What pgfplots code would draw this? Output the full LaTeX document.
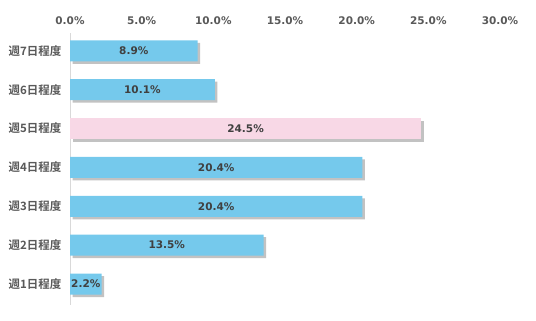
\documentclass[border=0pt]{standalone}
\usepackage{pgfplots}
\pgfplotsset{compat=1.18}
\usepackage{fontspec}
\setmainfont{DejaVu Sans}
\newfontfamily\cjkb{Noto Sans CJK JP Bold}
\usetikzlibrary{shadows}
\definecolor{barblue}{RGB}{117,201,236}
\definecolor{barpink}{RGB}{248,216,230}
\definecolor{ticktxt}{RGB}{89,89,89}
\definecolor{lbltxt}{RGB}{64,64,64}
\definecolor{axgray}{RGB}{217,217,217}
\begin{document}
\begin{tikzpicture}
\useasboundingbox (0,0) rectangle (536bp,321bp);
\begin{axis}[
  at={(70bp,16bp)}, anchor=south west,
  scale only axis, width=430bp, height=272bp,
  xmin=0, xmax=30, ymin=-0.54, ymax=6.46,
  axis line style={draw=none},
  major tick length=0pt,
  xtick={0,5,...,30},
  xticklabel pos=upper,
  /pgf/number format/assume math mode=true,
  xticklabel={\pgfmathprintnumber[fixed,fixed zerofill,precision=1]{\tick}\%},
  xticklabel style={font=\bfseries\fontsize{10.5bp}{12bp}\selectfont, text=ticktxt, yshift=5bp},
  ytick={0,...,6},
  yticklabels={週1日程度,週2日程度,週3日程度,週4日程度,週5日程度,週6日程度,週7日程度},
  yticklabel style={font=\cjkb\fontsize{11.5bp}{13bp}\selectfont, text=ticktxt, xshift=-5bp},
  clip=false,
]
\draw[axgray, line width=0.8pt] (axis cs:0,-0.54) -- (axis cs:0,6.46);
\addplot[xbar, bar width=21bp, fill=barblue, draw=none, bar shift=0pt,
  drop shadow={shadow xshift=2.5bp, shadow yshift=-2.5bp, opacity=0.4, fill=black!60}]
  coordinates {(2.2,0) (13.5,1) (20.4,2) (20.4,3) (10.1,5) (8.9,6)};
\addplot[xbar, bar width=21bp, fill=barpink, draw=none, bar shift=0pt,
  drop shadow={shadow xshift=2.5bp, shadow yshift=-2.5bp, opacity=0.4, fill=black!60}]
  coordinates {(24.5,4)};
\addplot[only marks, mark=none, draw=none,
  nodes near coords, point meta=explicit symbolic,
  every node near coord/.append style={anchor=center, font=\bfseries\fontsize{10.5bp}{12bp}\selectfont, text=lbltxt}]
  coordinates {(1.1,0) [2.2\%] (6.75,1) [13.5\%] (10.2,2) [20.4\%] (10.2,3) [20.4\%] (12.25,4) [24.5\%] (5.05,5) [10.1\%] (4.45,6) [8.9\%]};
\end{axis}
\end{tikzpicture}
\end{document}
